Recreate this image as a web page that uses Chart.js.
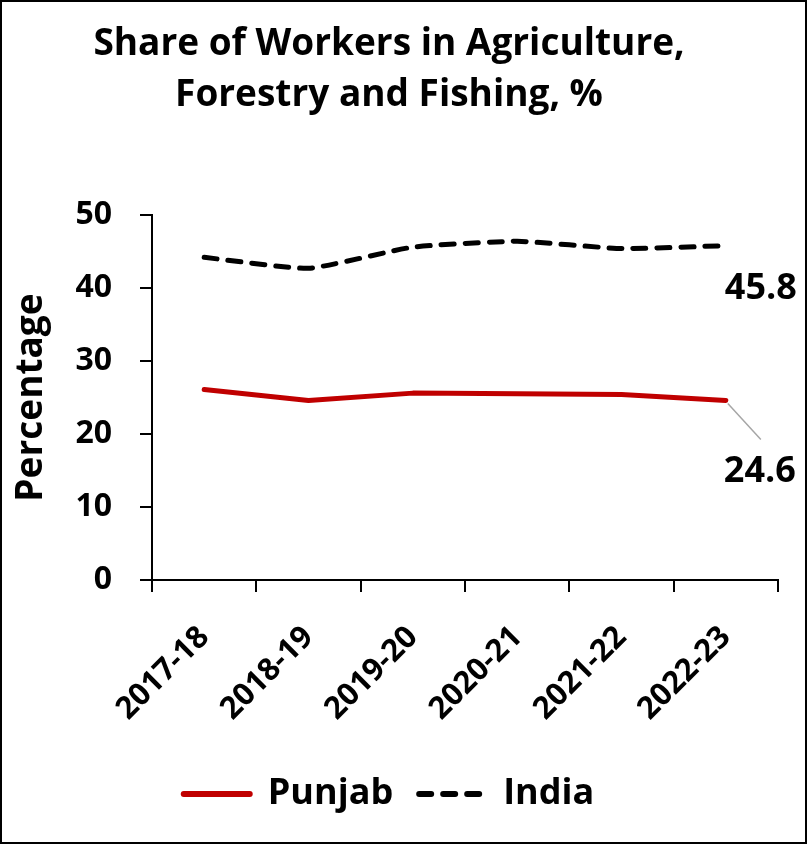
<!DOCTYPE html>
<html>
<head>
<meta charset="utf-8">
<script src="https://cdn.jsdelivr.net/npm/chart.js@4.4.1/dist/chart.umd.min.js"></script>
<style>
html,body{margin:0;padding:0;background:#fff;}
canvas{display:block;}
</style>
</head>
<body>
<canvas id="c" width="807" height="844"></canvas>
<script>
const categories = ["2017-18", "2018-19", "2019-20", "2020-21", "2021-22", "2022-23"];
const punjab = [26.1, 24.6, 25.6, 25.5, 25.4, 24.6];
const india = [44.2, 42.7, 45.6, 46.4, 45.4, 45.8];
const yTicks = [0, 10, 20, 30, 40, 50];
const titleLines = ["Share of Workers in Agriculture,", "Forestry and Fishing, %"];

const FONT = "'Open Sans'";

const endLabels = {
  id: "endLabels",
  afterDatasetsDraw(chart) {
    const ctx = chart.ctx;
    ctx.save();
    ctx.font = "bold 36px " + FONT;
    ctx.fillStyle = "#000";
    ctx.textAlign = "center";
    ctx.textBaseline = "middle";
    const mi = chart.getDatasetMeta(1).data;
    const pi = mi[mi.length - 1];
    ctx.fillText(india[india.length - 1].toFixed(1), pi.x + 35, pi.y + 43);
    const mp = chart.getDatasetMeta(0).data;
    const pp = mp[mp.length - 1];
    ctx.strokeStyle = "#a6a6a6";
    ctx.lineWidth = 1.5;
    ctx.beginPath();
    ctx.moveTo(pp.x + 2, pp.y + 3);
    ctx.lineTo(pp.x + 35, pp.y + 39);
    ctx.stroke();
    ctx.fillText(punjab[punjab.length - 1].toFixed(1), pp.x + 34, pp.y + 71);
    ctx.restore();
  },
  afterDraw(chart) {
    const ctx = chart.ctx;
    ctx.save();
    ctx.strokeStyle = "#000";
    ctx.lineWidth = 2;
    ctx.strokeRect(1, 1, chart.width - 2, chart.height - 2);
    ctx.restore();
  }
};

new Chart(document.getElementById("c"), {
  type: "line",
  data: {
    labels: categories,
    datasets: [
      {
        label: "Punjab",
        data: punjab,
        borderColor: "#C00000",
        backgroundColor: "#C00000",
        borderWidth: 5,
        pointRadius: 0,
        pointStyle: "line",
        borderCapStyle: "round",
        borderJoinStyle: "round",
        tension: 0
      },
      {
        label: "India",
        data: india,
        borderColor: "#000000",
        backgroundColor: "#000000",
        borderWidth: 5,
        borderDash: [13, 11],
        borderCapStyle: "round",
        pointRadius: 0,
        pointStyle: "line",
        tension: 0.15
      }
    ]
  },
  options: {
    responsive: false,
    animation: false,
    devicePixelRatio: 1,
    layout: { padding: { left: 0, right: 29, top: 0, bottom: 22 } },
    plugins: {
      tooltip: { enabled: false },
      title: {
        display: true,
        text: titleLines,
        color: "#000",
        font: { family: FONT, size: 37, weight: "bold", lineHeight: 51 / 37 },
        padding: { top: 19, bottom: 94 }
      },
      legend: {
        position: "bottom",
        labels: {
          color: "#000",
          font: { family: FONT, size: 36, weight: "bold" },
          usePointStyle: true,
          pointStyleWidth: 66,
          boxHeight: 8,
          padding: 26,
          generateLabels(chart) {
            const items = Chart.defaults.plugins.legend.labels.generateLabels(chart);
            items.forEach((it, i) => {
              const ds = chart.data.datasets[i];
              it.lineDash = i === 1 ? [12, 12] : [];
              it.lineWidth = 6;
              it.strokeStyle = ds.borderColor;
              it.fillStyle = ds.borderColor;
              it.lineCap = "round";
              it.pointStyle = "line";
            });
            return items;
          }
        }
      }
    },
    scales: {
      x: {
        offset: true,
        grid: {
          offset: true,
          drawOnChartArea: false,
          drawTicks: true,
          tickLength: 12,
          color: "#000",
          lineWidth: 2
        },
        border: { display: true, color: "#000", width: 2 },
        ticks: {
          color: "#000",
          font: { family: FONT, size: 31, weight: "bold" },
          minRotation: 45,
          maxRotation: 45,
          autoSkip: false,
          padding: 27
        },
        afterFit(s) { s.height = 170; }
      },
      y: {
        min: 0,
        max: 50,
        afterBuildTicks(s) { s.ticks = yTicks.map(v => ({ value: v })); },
        grid: {
          drawOnChartArea: false,
          drawTicks: true,
          tickLength: 12,
          color: "#000",
          lineWidth: 2
        },
        border: { display: true, color: "#000", width: 2 },
        ticks: {
          color: "#000",
          font: { family: FONT, size: 32, weight: "bold" },
          padding: 28
        },
        title: {
          display: true,
          text: "Percentage",
          color: "#000",
          font: { family: FONT, size: 37, weight: "bold" },
          padding: { top: 9, bottom: 0 }
        },
        afterFit(s) { s.width = 152; }
      }
    }
  },
  plugins: [endLabels]
});
</script>
</body>
</html>
